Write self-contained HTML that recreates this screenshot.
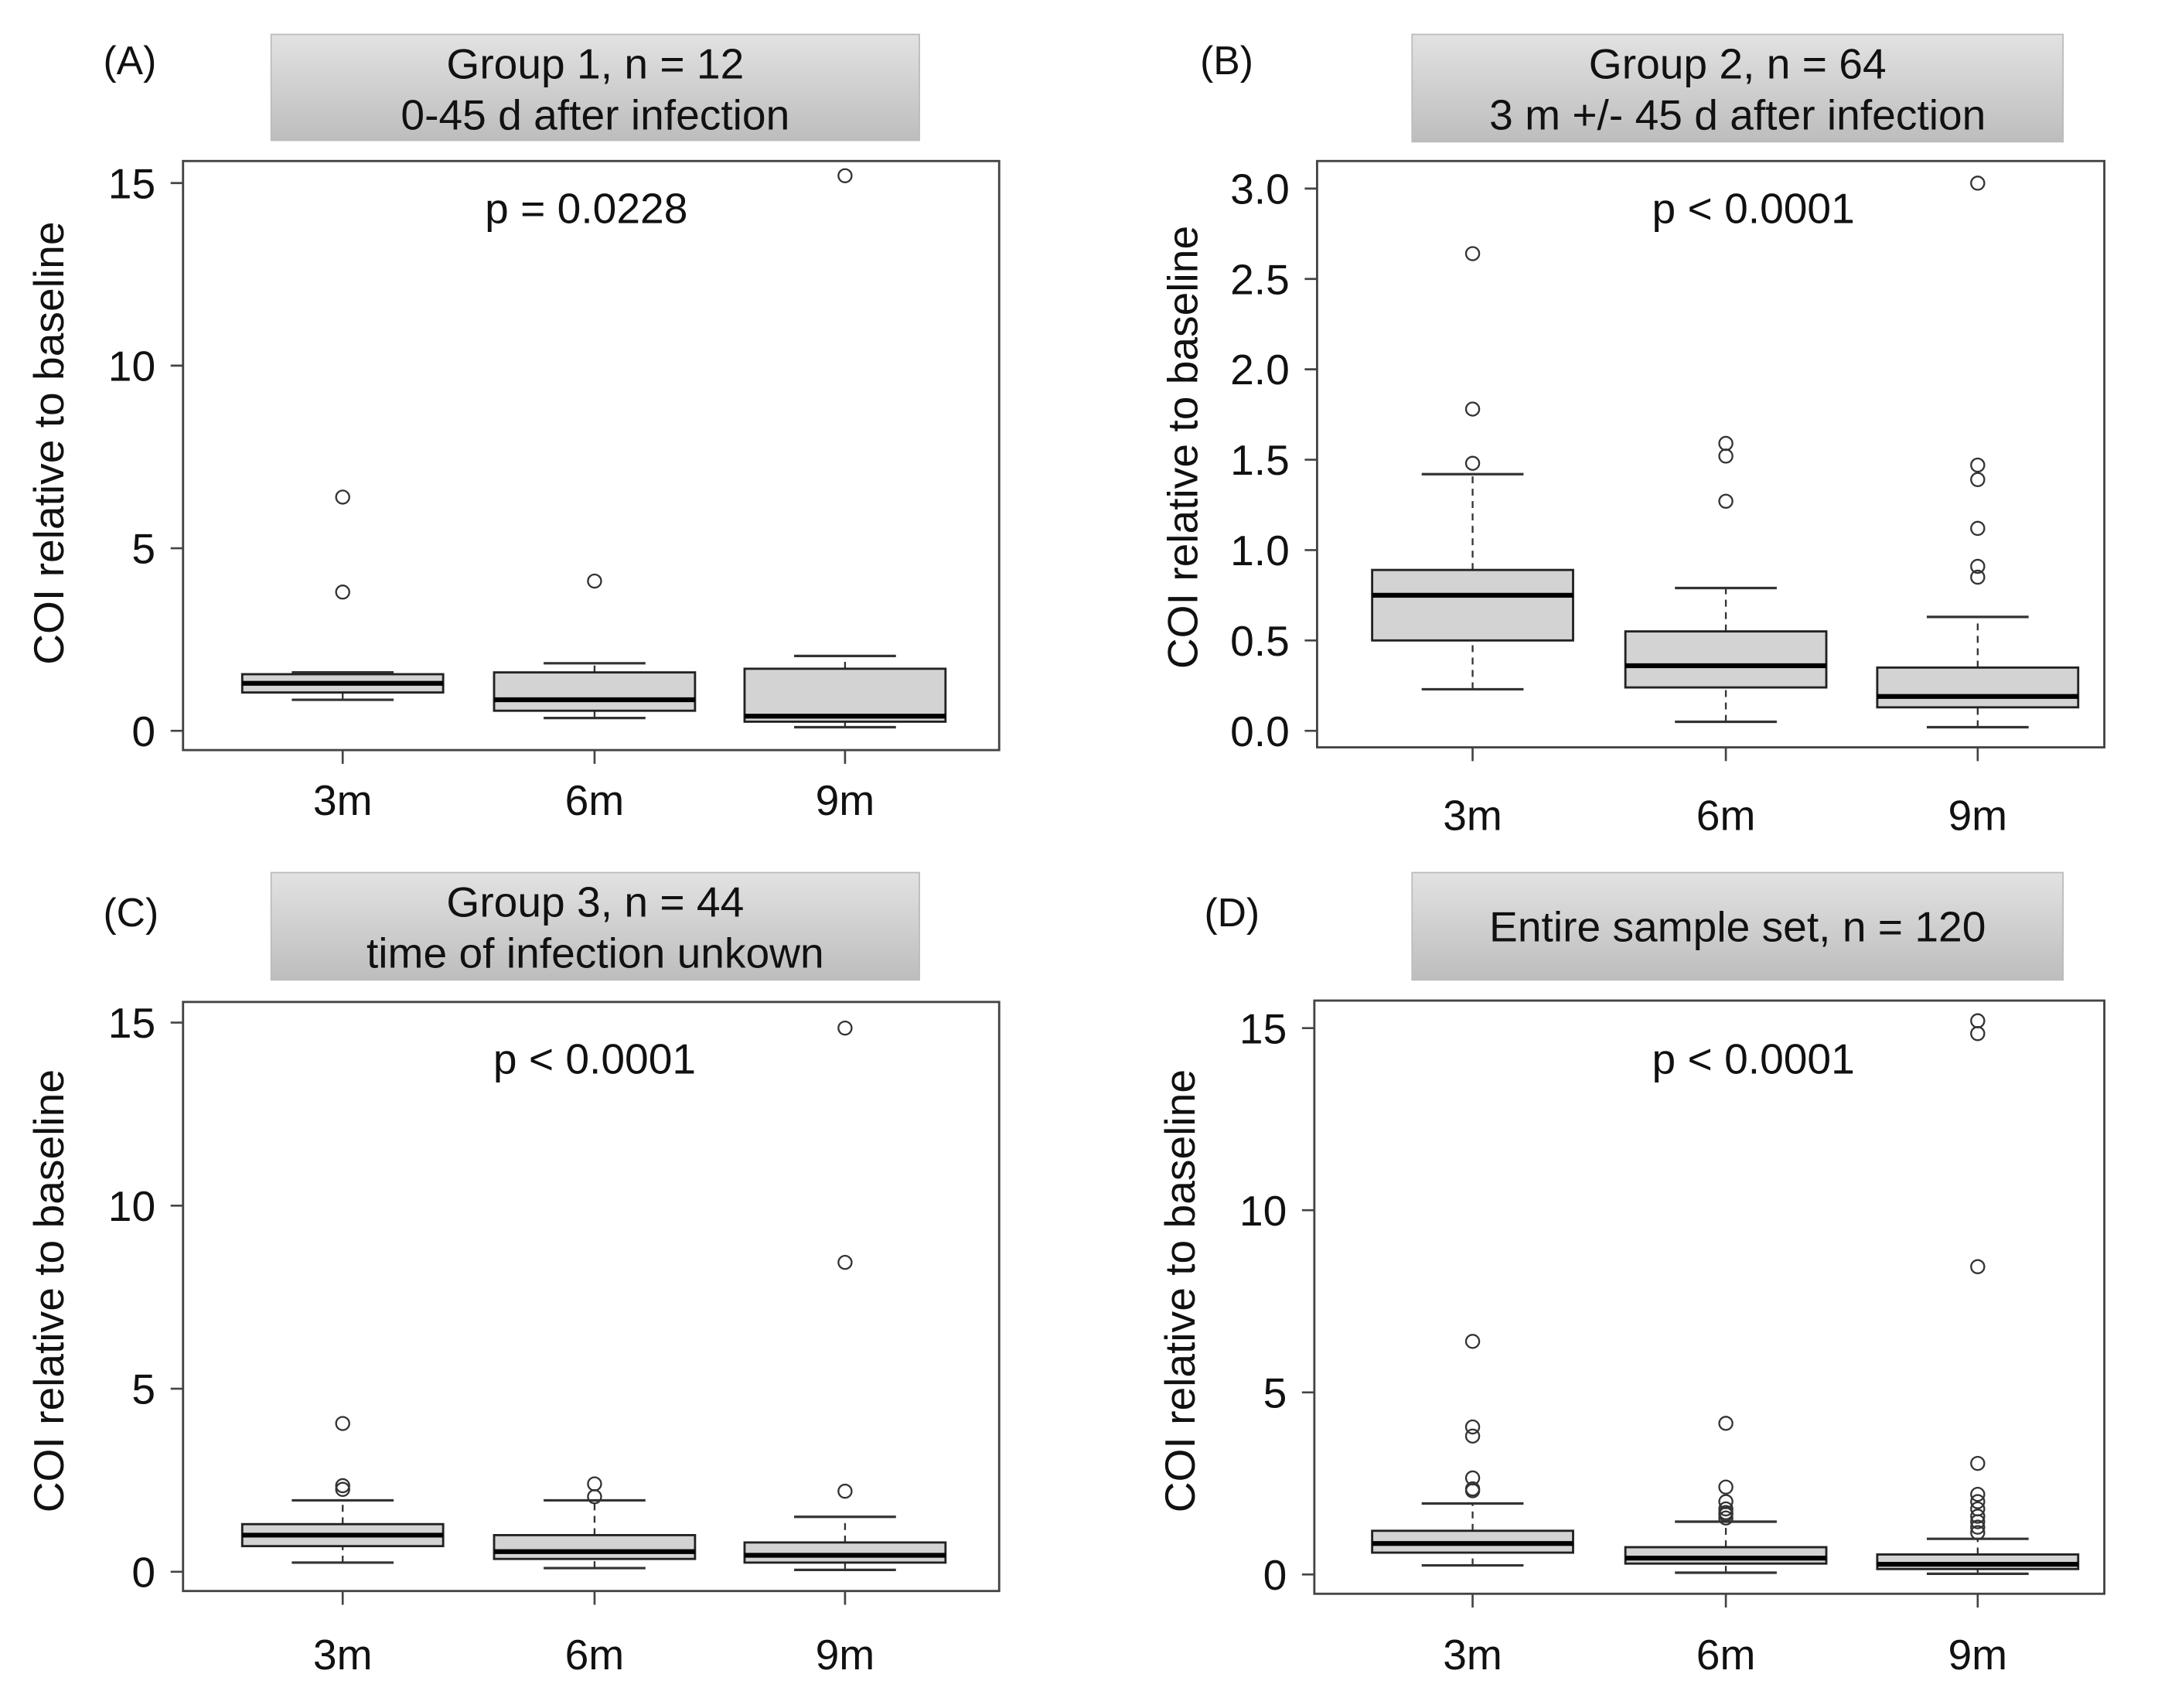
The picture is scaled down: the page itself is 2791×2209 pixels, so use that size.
<!DOCTYPE html>
<html><head><meta charset="utf-8"><style>
html,body{margin:0;padding:0;background:#fff;}
svg{display:block;font-family:"Liberation Sans",Arial,sans-serif;}
</style></head><body>
<svg id="fig" width="2791" height="2209" viewBox="0 0 1568 1241" preserveAspectRatio="none" xmlns="http://www.w3.org/2000/svg">
<defs><linearGradient id="tg" x1="0" y1="0" x2="0" y2="1"><stop offset="0" stop-color="#e2e2e2"/><stop offset="1" stop-color="#bdbdbd"/></linearGradient></defs>
</svg>
<script>
const categories = ["3m","6m","9m"];
// stats per panel: [low whisker, Q1, median, Q3, high whisker]
const statsA = [[0.85,1.05,1.3,1.55,1.6],[0.35,0.55,0.85,1.6,1.85],[0.1,0.25,0.4,1.7,2.05]];
const outA = [[3.8,6.4],[4.1],[15.2]];
const statsB = [[0.23,0.5,0.75,0.89,1.42],[0.05,0.24,0.36,0.55,0.79],[0.02,0.13,0.19,0.35,0.63]];
const outB = [[1.48,1.78,2.64],[1.27,1.52,1.59],[0.85,0.91,1.12,1.39,1.47,3.03]];
const statsC = [[0.25,0.7,1.0,1.3,1.95],[0.1,0.35,0.55,1.0,1.95],[0.05,0.25,0.45,0.8,1.5]];
const outC = [[2.25,2.35,4.05],[2.05,2.4],[2.2,8.45,14.85]];
const statsD = [[0.25,0.6,0.85,1.2,1.95],[0.05,0.3,0.45,0.75,1.45],[0.02,0.15,0.28,0.55,0.98]];
const outD = [[2.3,2.35,2.65,3.8,4.05,6.4],[1.55,1.65,1.7,1.8,2.0,2.4,4.15],[1.15,1.3,1.45,1.6,1.8,2.0,2.2,3.05,8.45,14.85,15.2]];
const ticks15 = [0,5,10,15];
const tickLabels15 = ["0","5","10","15"];
const ticks3 = [0,0.5,1,1.5,2,2.5,3];
const tickLabels3 = ["0.0","0.5","1.0","1.5","2.0","2.5","3.0"];

const svg = document.getElementById('fig');
const NS = "http://www.w3.org/2000/svg";
function mk(tag, attrs, parent){const e=document.createElementNS(NS,tag);for(const k in attrs)e.setAttribute(k,attrs[k]);(parent||svg).appendChild(e);return e;}
const FS = 31;

const panels = [
 {id:"a",label:"(A)",lx:75,ly:54,title:["Group 1, n = 12","0-45 d after infection"],tb:[197,25,668,102],box:[133,117,726,545],y0:531,yMax:133,vMax:15,cx:[249,432,614],xl:581,p:"p = 0.0228",pc:426,py:162,stats:statsA,outs:outA,ticks:ticks15,tl:tickLabels15,titleY:322},
 {id:"b",label:"(B)",lx:872,ly:54,title:["Group 2, n = 64","3 m +/- 45 d after infection"],tb:[1026,25,1499,103],box:[957,117,1529,543],y0:531,yMax:137,vMax:3,cx:[1070,1254,1437],xl:592,p:"p < 0.0001",pc:1274,py:162,stats:statsB,outs:outB,ticks:ticks3,tl:tickLabels3,titleY:325},
 {id:"c",label:"(C)",lx:75,ly:673,title:["Group 3, n = 44","time of infection unkown"],tb:[197,634,668,712],box:[133,728,726,1156],y0:1142,yMax:743,vMax:15,cx:[249,432,614],xl:1202,p:"p < 0.0001",pc:432,py:780,stats:statsC,outs:outC,ticks:ticks15,tl:tickLabels15,titleY:938},
 {id:"d",label:"(D)",lx:875,ly:673,title:["Entire sample set, n = 120"],tb:[1026,634,1499,712],box:[955,727,1529,1158],y0:1144,yMax:747,vMax:15,cx:[1070,1254,1437],xl:1202,p:"p < 0.0001",pc:1274,py:780,stats:statsD,outs:outD,ticks:ticks15,tl:tickLabels15,titleY:938}
];

panels.forEach(P=>{
  const g = mk('g',{});
  
  
  const y = v => P.y0 + (P.yMax-P.y0)*v/P.vMax;
  const lab = mk('text',{x:P.lx,y:P.ly,'font-size':29,fill:'#111'},g); lab.textContent=P.label;
  
  
  const tb = mk('rect',{x:P.tb[0],y:P.tb[1],width:P.tb[2]-P.tb[0],height:P.tb[3]-P.tb[1],fill:'url(#tg)',stroke:'#bbb','stroke-width':1},g);
  
  
  const tcx=(P.tb[0]+P.tb[2])/2;
  P.title.forEach((t,i)=>{
    const n=P.title.length;
    const ty = n===2 ? P.tb[1]+32+i*37 : (P.tb[1]+P.tb[3])/2+11;
    const te=mk('text',{x:tcx,y:ty,'font-size':FS,'text-anchor':'middle',fill:'#111'},g); te.textContent=t;
    
    
  });
  const fr = mk('rect',{x:P.box[0],y:P.box[1],width:P.box[2]-P.box[0],height:P.box[3]-P.box[1],fill:'none',stroke:'#444','stroke-width':1.6},g);
  
  
  P.ticks.forEach((v,i)=>{
    const yy=y(v);
    mk('line',{x1:P.box[0]-9,x2:P.box[0],y1:yy,y2:yy,stroke:'#444','stroke-width':1.5},g);
    const t=mk('text',{x:P.box[0]-20,y:yy+11,'font-size':FS,'text-anchor':'end',fill:'#111'},g); t.textContent=P.tl[i];
    
    
  });
  const yt=mk('text',{x:0,y:0,'font-size':FS,'text-anchor':'middle',fill:'#111',transform:`translate(${P.box[0]-87},${P.titleY}) rotate(-90)`},g);
  yt.textContent='COI relative to baseline';
  
  
  const pt=mk('text',{x:P.pc,y:P.py,'font-size':FS,'text-anchor':'middle',fill:'#111'},g); pt.textContent=P.p;
  
  
  categories.forEach((c,i)=>{
    const cx=P.cx[i], s=P.stats[i], hw=73, cw=37;
    mk('line',{x1:cx,x2:cx,y1:P.box[3],y2:P.box[3]+10,stroke:'#444','stroke-width':1.5},g);
    const xl=mk('text',{x:cx,y:P.xl+11,'font-size':FS,'text-anchor':'middle',fill:'#111'},g); xl.textContent=c;
    
    
    const bg=mk('g',{},g);
    
    
    mk('line',{x1:cx,x2:cx,y1:y(s[0]),y2:y(s[1]),stroke:'#333','stroke-width':1.3,'stroke-dasharray':'5,4'},bg);
    mk('line',{x1:cx,x2:cx,y1:y(s[3]),y2:y(s[4]),stroke:'#333','stroke-width':1.3,'stroke-dasharray':'5,4'},bg);
    mk('line',{x1:cx-cw,x2:cx+cw,y1:y(s[0]),y2:y(s[0]),stroke:'#333','stroke-width':1.8},bg);
    mk('line',{x1:cx-cw,x2:cx+cw,y1:y(s[4]),y2:y(s[4]),stroke:'#333','stroke-width':1.8},bg);
    mk('rect',{x:cx-hw,y:y(s[3]),width:2*hw,height:Math.max(1,y(s[1])-y(s[3])),fill:'#d3d3d3',stroke:'#222','stroke-width':1.6},bg);
    mk('line',{x1:cx-hw,x2:cx+hw,y1:y(s[2]),y2:y(s[2]),stroke:'#000','stroke-width':3.5},bg);
    P.outs[i].forEach(v=>{
      const o=mk('circle',{cx:cx,cy:y(v),r:4.8,fill:'none',stroke:'#333','stroke-width':1.3},bg);
      
      
    });
  });
});
</script>
</body></html>
